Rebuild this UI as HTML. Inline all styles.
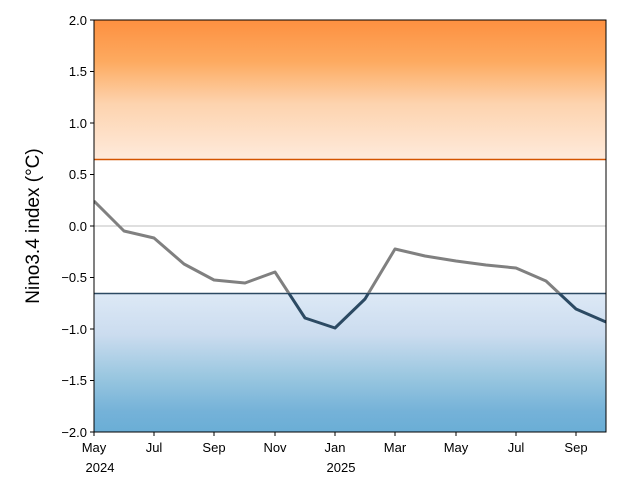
<!DOCTYPE html>
<html><head><meta charset="utf-8"><style>body{margin:0;background:#fff}svg{display:block}text{font-family:"Liberation Sans",sans-serif;font-size:13px;fill:#000}</style></head>
<body>
<svg width="643" height="488" viewBox="0 0 643 488">
<defs>
<linearGradient id="o" x1="0" y1="0" x2="0" y2="1">
<stop offset="0" stop-color="#fd9040"/><stop offset="0.3" stop-color="#fdaa60"/><stop offset="0.6" stop-color="#fdd3ae"/><stop offset="1" stop-color="#feeadb"/></linearGradient>
<linearGradient id="b" x1="0" y1="0" x2="0" y2="1">
<stop offset="0" stop-color="#dde9f6"/><stop offset="0.3" stop-color="#cbdcef"/><stop offset="0.6" stop-color="#9ac7e0"/><stop offset="0.85" stop-color="#75b2d8"/><stop offset="1" stop-color="#6aaed6"/></linearGradient>
<clipPath id="up"><rect x="94" y="0" width="512" height="293"/></clipPath>
<clipPath id="dn"><rect x="94" y="293" width="512" height="140"/></clipPath>
</defs>
<rect x="94" y="20" width="512" height="139" fill="url(#o)"/>
<rect x="94" y="293" width="512" height="139" fill="url(#b)"/>
<line x1="94" y1="226" x2="606" y2="226" stroke="#aaa" stroke-width="0.8"/>
<line x1="94" y1="159.5" x2="606" y2="159.5" stroke="#d35400" stroke-width="1.5"/>
<line x1="94" y1="293.5" x2="606" y2="293.5" stroke="#2c4a63" stroke-width="1.5"/>
<g fill="none" stroke-width="3" stroke-linejoin="round">
<polyline id="p" clip-path="url(#up)" stroke="#808080" points="94,201 124,231 154,238 184,264 214,280 245,283 275,272 305,318 335,328 365,299 395,249 425,256 456,261 486,265 516,268 546,281 576,309 606,322"/>
<polyline clip-path="url(#dn)" stroke="#2c4a63" points="94,201 124,231 154,238 184,264 214,280 245,283 275,272 305,318 335,328 365,299 395,249 425,256 456,261 486,265 516,268 546,281 576,309 606,322"/>
</g>
<rect x="94" y="20" width="512" height="412" fill="none" stroke="#000" stroke-width="1"/>
<g stroke="#000" stroke-width="1">
<line x1="90" y1="20" x2="94" y2="20"/><line x1="90" y1="123" x2="94" y2="123"/><line x1="90" y1="226" x2="94" y2="226"/><line x1="90" y1="329" x2="94" y2="329"/><line x1="90" y1="432" x2="94" y2="432"/><line x1="90" y1="71.5" x2="94" y2="71.5"/><line x1="90" y1="174.5" x2="94" y2="174.5"/><line x1="90" y1="277.5" x2="94" y2="277.5"/><line x1="90" y1="380.5" x2="94" y2="380.5"/>
<line x1="94" y1="432" x2="94" y2="436"/><line x1="154" y1="432" x2="154" y2="436"/><line x1="214" y1="432" x2="214" y2="436"/><line x1="275" y1="432" x2="275" y2="436"/><line x1="335" y1="432" x2="335" y2="436"/><line x1="395" y1="432" x2="395" y2="436"/><line x1="456" y1="432" x2="456" y2="436"/><line x1="516" y1="432" x2="516" y2="436"/><line x1="576" y1="432" x2="576" y2="436"/>
</g>
<g text-anchor="end">
<text x="87" y="25">2.0</text><text x="87" y="76">1.5</text><text x="87" y="128">1.0</text><text x="87" y="179">0.5</text><text x="87" y="231">0.0</text><text x="87" y="282">−0.5</text><text x="87" y="334">−1.0</text><text x="87" y="385">−1.5</text><text x="87" y="437">−2.0</text>
</g>
<g text-anchor="middle">
<text x="94" y="452">May</text><text x="100" y="472">2024</text><text x="154" y="452">Jul</text><text x="214" y="452">Sep</text><text x="275" y="452">Nov</text><text x="335" y="452">Jan</text><text x="341" y="472">2025</text><text x="395" y="452">Mar</text><text x="456" y="452">May</text><text x="516" y="452">Jul</text><text x="576" y="452">Sep</text>
</g>
<text x="39" y="226" text-anchor="middle" transform="rotate(-90 39 226)" style="font-size:19px">Nino3.4 index (°C)</text>
</svg>
</body></html>
